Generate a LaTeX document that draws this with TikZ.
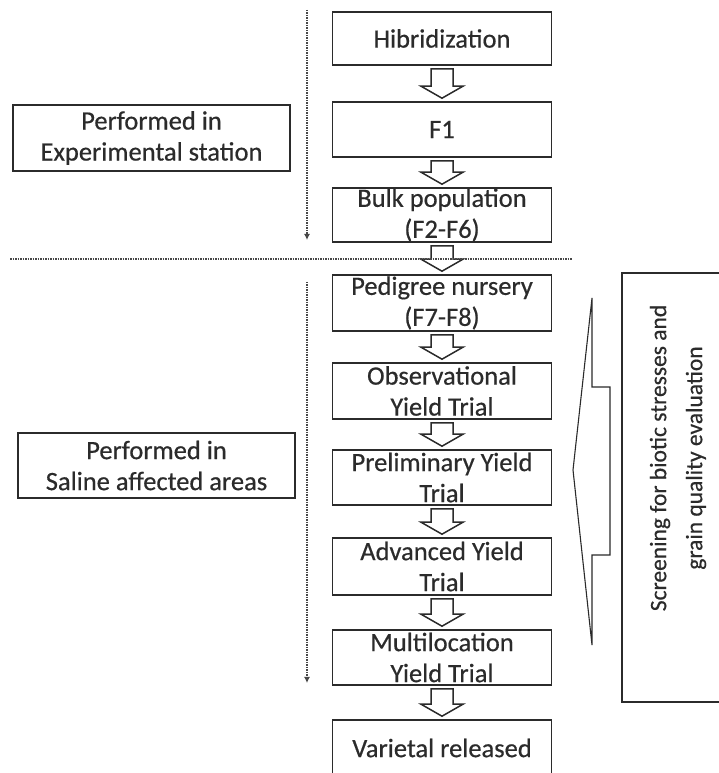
\documentclass[tikz,border=0pt]{standalone}
\usepackage{fontspec}
\setmainfont{Carlito}
\newfontfamily\inkfont{Carlito}[FakeBold=0.5]
\usetikzlibrary{arrows.meta}
\definecolor{ink}{HTML}{2B2B2B}
\tikzset{
  box/.style={draw=ink, line width=1.6pt, minimum width=219pt, inner sep=0pt,
    align=center, text=ink, font=\inkfont\fontsize{26.5}{31}\selectfont},
  sidebox/.style={draw=ink, line width=1.6pt, minimum width=277pt, inner sep=0pt,
    align=center, text=ink, font=\inkfont\fontsize{26.5}{31}\selectfont},
  flowarrow/.style={draw=ink, line width=1.5pt, fill=white, line join=miter},
  dotline/.style={draw=black!72, line width=1.5pt, densely dotted},
}
\newcommand{\blockarrow}[2]{%
  \draw[flowarrow] ([xshift=-11pt,yshift=-3pt]#1.south) -- ([xshift=11pt,yshift=-3pt]#1.south)
    -- ([xshift=11pt,yshift=15pt]#2.north) -- ([xshift=21pt,yshift=15pt]#2.north)
    -- ([yshift=3pt]#2.north) -- ([xshift=-21pt,yshift=15pt]#2.north)
    -- ([xshift=-11pt,yshift=15pt]#2.north) -- cycle;}
\begin{document}
\begin{tikzpicture}[x=1pt,y=1pt]
\clip (0,0) rectangle (719,773);
\fill[white] (0,0) rectangle (719,773);

% main column
\node[box, minimum height=53pt] (hib) at (442,734.5) {Hibridization};
\node[box, minimum height=55pt] (f1) at (442,643.5) {F1};
\node[box, minimum height=54pt] (bulk) at (442,558) {Bulk population\\(F2-F6)};
\node[box, minimum height=56pt] (ped) at (442,470) {Pedigree nursery\\(F7-F8)};
\node[box, minimum height=56pt] (obs) at (442,382) {Observational\\Yield Trial};
\node[box, minimum height=55pt] (pre) at (442,295.5) {Preliminary Yield\\Trial};
\node[box, minimum height=57pt] (adv) at (442,206.5) {Advanced Yield\\Trial};
\node[box, minimum height=55pt] (mul) at (442,115.5) {Multilocation\\Yield Trial};
\node[box, minimum height=56pt] (var) at (442,25) {Varietal released};

% block arrows
\blockarrow{hib}{f1}
\blockarrow{f1}{bulk}
\blockarrow{bulk}{ped}
\blockarrow{ped}{obs}
\blockarrow{obs}{pre}
\blockarrow{pre}{adv}
\blockarrow{adv}{mul}
\blockarrow{mul}{var}

% side boxes
\node[sidebox, minimum height=66pt] (exp) at (151.5,635) {Performed in\\Experimental station};
\node[sidebox, minimum height=65pt] (sal) at (156.5,307.5) {Performed in\\Saline affected areas};

% dotted guides
\coordinate (d1s) at (307,763);
\coordinate (d1e) at (307,533);
\coordinate (d2s) at (307,491);
\coordinate (d2e) at (307,90);
\coordinate (hl) at (10,514);
\coordinate (hr) at (572,514);
\draw[dotline, -{Latex[length=6pt,width=6pt]}] (d1s) -- (d1e);
\draw[dotline, -{Latex[length=6pt,width=6pt]}] (d2s) -- (d2e);
\draw[dotline] (hl) -- (hr);

% right box
\node[draw=ink, line width=1.6pt, minimum width=110pt, minimum height=429pt, inner sep=0pt] (scrbox) at (677,285.5) {};
\node[rotate=90, align=center, text=ink, font=\inkfont\fontsize{23.5}{36}\selectfont] (scr) at (678,315)
  {Screening for biotic stresses and\\grain quality evaluation};

% big left-pointing arrow
\draw[draw=ink, line width=1.1pt, line join=miter]
  (573,303) -- (592,475) -- (592,386) -- (610,386) -- (610,218) -- (592,218) -- (592,128) -- cycle;
\end{tikzpicture}
\end{document}
